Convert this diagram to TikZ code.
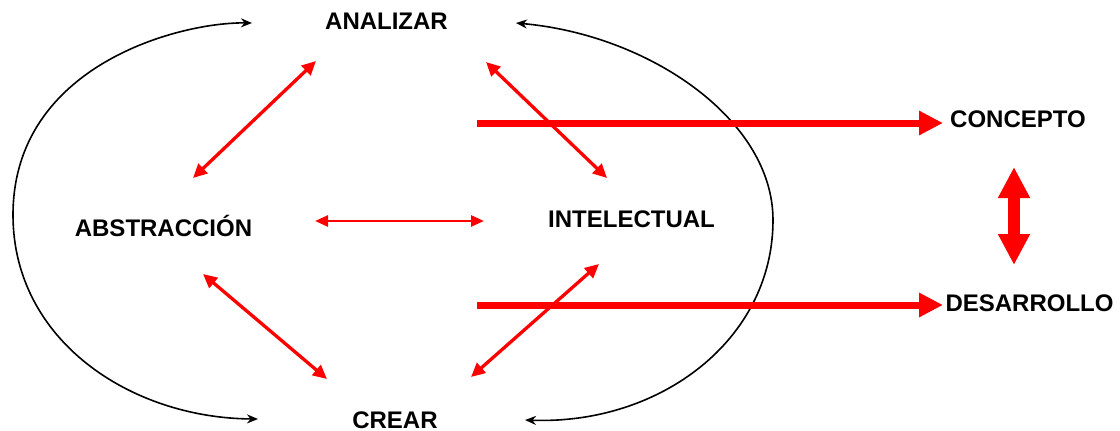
\documentclass[tikz,border=0pt]{standalone}
\usepackage{fontspec}
\setmainfont{Liberation Sans}
\usetikzlibrary{arrows.meta}
\begin{document}
\begin{tikzpicture}[x=1pt,y=-1pt,
  lbl/.style={font=\fontsize{24}{28}\selectfont\bfseries, inner sep=0pt, anchor=base},
  redlink/.style={draw=red, line width=3.3pt,
    {Triangle[length=14pt,width=13pt]}-{Triangle[length=14pt,width=13pt]}},
  redthin/.style={draw=red, line width=2.6pt,
    {Triangle[length=13pt,width=11pt]}-{Triangle[length=13pt,width=11pt]}},
  redbig/.style={draw=red, line width=7pt, -{Triangle[length=24pt,width=23pt]}},
  redvert/.style={draw=red, line width=12pt,
    {Triangle[length=31pt,width=30pt]}-{Triangle[length=31pt,width=30pt]}},
  cycle/.style={draw=black, line width=1.6pt, -{Stealth[length=11pt,width=9pt]}}]
\useasboundingbox (0,0) rectangle (1120,431);

% labels
\node[lbl] (an) at (386.5,30) {ANALIZAR};
\node[lbl] (ab) at (163.5,236) {ABSTRACCIÓN};
\node[lbl] (in) at (631.5,227) {INTELECTUAL};
\node[lbl] (cr) at (395,428) {CREAR};
\node[lbl] (co) at (1018,127) {CONCEPTO};
\node[lbl] (de) at (1029.5,311) {DESARROLLO};

% connector end points
\coordinate (anL) at (316,61);
\coordinate (anR) at (486,62);
\coordinate (abT) at (193,178);
\coordinate (abR) at (315,221);
\coordinate (abB) at (203,274);
\coordinate (inT) at (607,178);
\coordinate (inL) at (484,221);
\coordinate (inB) at (599,264);
\coordinate (crL) at (327,379);
\coordinate (crR) at (471,377);
\coordinate (s1) at (477,123);
\coordinate (e1) at (943,123);
\coordinate (s2) at (477,305);
\coordinate (e2) at (943,305);
\coordinate (coB) at (1014,167);
\coordinate (deT) at (1014,265);
\coordinate (lt) at (252,23);
\coordinate (lm) at (13,215);
\coordinate (lb) at (258,419);
\coordinate (rt) at (516,23);
\coordinate (rm) at (773,220);
\coordinate (rb) at (525,420);

% black cycle arcs
\draw[cycle] (lm) .. controls (13,65) and (180,22) .. (lt);
\draw[cycle] (lm) .. controls (13,340) and (130,418) .. (lb);
\draw[cycle] (rm) .. controls (773,120) and (650,35) .. (rt);
\draw[cycle] (rm) .. controls (773,340) and (660,425) .. (rb);

% red links
\draw[redlink] (anL) -- (abT);
\draw[redlink] (anR) -- (inT);
\draw[redthin] (abR) -- (inL);
\draw[redlink] (abB) -- (crL);
\draw[redlink] (inB) -- (crR);
\draw[redbig] (s1) -- (e1);
\draw[redbig] (s2) -- (e2);
\draw[redvert] (coB) -- (deT);
\end{tikzpicture}
\end{document}
